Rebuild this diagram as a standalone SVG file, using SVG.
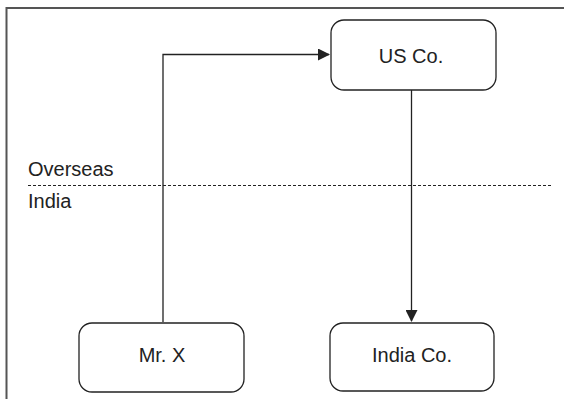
<svg xmlns="http://www.w3.org/2000/svg" width="564" height="399" viewBox="0 0 564 399">
  <style>
    .frame { stroke: #555; stroke-width: 2; fill: none; }
    .box { fill: #fff; stroke: #222; stroke-width: 1.3; }
    .label { font-family: "Liberation Sans", Arial, sans-serif; font-size: 20px; fill: #222; }
    .mid { text-anchor: middle; }
    .conn { fill: none; stroke: #222; stroke-width: 1.3; }
    .border { stroke: #222; stroke-width: 1.2; stroke-dasharray: 3 2; }
  </style>
  <defs>
    <marker id="arrow" markerWidth="12" markerHeight="12" refX="11" refY="6" orient="auto" markerUnits="userSpaceOnUse">
      <path d="M0,0 L12,6 L0,12 Z" fill="#222"/>
    </marker>
  </defs>

  <!-- outer frame (top and left edges only) -->
  <path class="frame" d="M6.5,399 V8 H564"/>

  <!-- jurisdiction boundary -->
  <g id="boundary">
    <line class="border" x1="28" y1="185.5" x2="552" y2="185.5"/>
    <text class="label" x="28" y="176">Overseas</text>
    <text class="label" x="28" y="208">India</text>
  </g>

  <g id="connectors">
    <path class="conn" d="M163,322 V54.5 H329" marker-end="url(#arrow)"/>
    <path class="conn" d="M411.5,90 V321" marker-end="url(#arrow)"/>
  </g>

  <g id="us-co">
    <rect class="box" x="331" y="20" width="165" height="70" rx="13"/>
    <text class="label mid" x="411" y="63">US Co.</text>
  </g>

  <g id="mr-x">
    <rect class="box" x="79" y="323" width="165" height="69" rx="13"/>
    <text class="label mid" x="162" y="362">Mr. X</text>
  </g>

  <g id="india-co">
    <rect class="box" x="330" y="323" width="164" height="68" rx="13"/>
    <text class="label mid" x="412" y="362">India Co.</text>
  </g>
</svg>
